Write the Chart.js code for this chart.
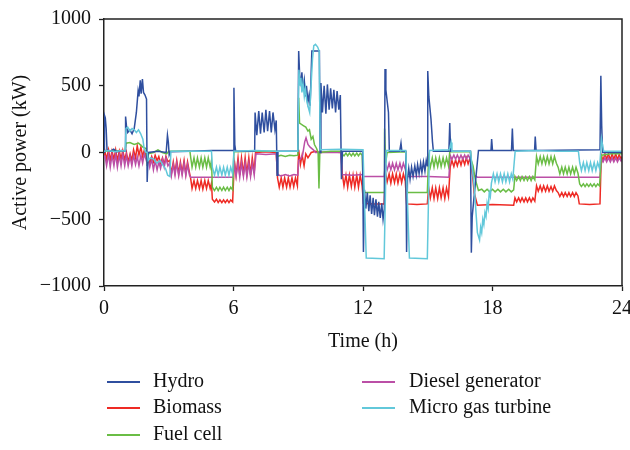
<!DOCTYPE html>
<html>
<head>
<meta charset="utf-8">
<script src="https://cdn.jsdelivr.net/npm/chart.js@4.4.1/dist/chart.umd.min.js"></script>
<style>
  html, body { margin: 0; padding: 0; background: #fff; }
  #wrap { width: 630px; height: 450px; }
</style>
</head>
<body>
<div id="wrap"><canvas id="chart" width="630" height="450"></canvas></div>
<script>
// 数据：[小时, kW]
const seriesNames = ['Hydro', 'Biomass', 'Fuel cell', 'Diesel generator', 'Micro gas turbine'];
const xTicks = [0, 6, 12, 18, 24];
const yTicks = [-1000, -500, 0, 500, 1000];

const hydro = [
  [0, 0], [0.02, 280], [0.06, 260], [0.1, 180], [0.14, 20], [0.3, 10], [0.45, 25], [0.6, 5], [0.8, 15], [0.98, 10],
  [1.0, 270], [1.04, 200], [1.1, 150], [1.2, 170], [1.3, 140], [1.4, 180], [1.5, 300], [1.58, 460], [1.62, 420],
  [1.68, 540], [1.72, 440], [1.78, 550], [1.83, 450], [1.9, 430], [1.97, 400], [2.0, -220], [2.05, 0],
  [2.5, 10], [2.88, 0], [2.94, 130], [2.98, 80], [3.02, -20], [3.08, 5],
  [4.0, 10], [5.0, 15], [5.98, 15], [6.02, 485], [6.06, 60], [6.1, 10], [6.98, 10],
  [7.0, 300], [7.08, 130], [7.17, 310], [7.25, 140], [7.33, 300], [7.42, 150], [7.5, 320], [7.58, 160],
  [7.67, 310], [7.75, 150], [7.83, 300], [7.92, 170], [7.98, 240], [8.02, -170], [8.06, 10],
  [8.98, 10], [9.02, 760], [9.07, 560], [9.12, 520], [9.17, 600], [9.22, 470], [9.28, 540], [9.33, 420],
  [9.38, 500], [9.45, 380], [9.5, 430], [9.55, 350], [9.63, 760], [9.98, 760], [10.01, 0],
  [10.05, 520], [10.12, 300], [10.2, 500], [10.28, 290], [10.35, 510], [10.43, 320], [10.5, 480], [10.58, 330],
  [10.65, 470], [10.73, 300], [10.8, 460], [10.88, 320], [10.95, 430], [11.0, -200], [11.05, 10],
  [11.98, 10], [12.02, -745], [12.07, -280], [12.13, -420], [12.2, -300], [12.27, -440], [12.33, -320],
  [12.4, -460], [12.47, -340], [12.53, -470], [12.6, -350], [12.67, -480], [12.73, -370], [12.8, -490],
  [12.87, -380], [12.93, -500], [12.99, -420],
  [13.02, 625], [13.06, 470], [13.18, 300], [13.22, 10], [13.7, 10], [13.76, 70], [13.8, 10], [13.98, 10],
  [14.02, -745], [14.06, -200], [14.12, -120], [14.18, -200], [14.25, -110], [14.32, -180], [14.4, -100],
  [14.47, -170], [14.53, -90], [14.6, -160], [14.67, -80], [14.73, -150], [14.8, -70], [14.87, -140],
  [14.93, -60], [14.98, -100],
  [15.0, 610], [15.05, 420], [15.15, 250], [15.22, 80], [15.26, 10], [15.98, 10], [16.02, 220], [16.06, 10], [16.98, 10],
  [17.02, -750], [17.06, -480], [17.35, 15], [17.93, 15], [17.96, 100], [18.0, 15], [18.88, 15], [18.92, 180],
  [18.96, 15], [19.95, 15], [19.98, 120], [20.02, 15], [22.98, 20],
  [23.02, 575], [23.06, 200], [23.1, 0], [24, 0],
];

const biomass = [
  [0, -20], [0.04, 10], [0.12, -50], [0.21, 20], [0.29, -60], [0.37, 10], [0.46, -50], [0.54, 20], [0.62, -60],
  [0.71, 10], [0.79, -50], [0.87, 15], [0.96, -55],
  [1.04, 0], [1.12, -70], [1.21, -10], [1.29, -60], [1.37, 20], [1.46, -40], [1.54, 50], [1.62, -20], [1.71, 40],
  [1.79, -30], [1.87, 20], [1.96, -40],
  [2.04, -30], [2.12, -80], [2.21, -30], [2.29, -70], [2.37, -20], [2.46, -60], [2.54, -30], [2.62, -80],
  [2.71, -40], [2.79, -90], [2.87, -30], [2.96, -70],
  [3.04, -60], [3.12, -160], [3.21, -70], [3.29, -150], [3.37, -60], [3.46, -160], [3.54, -70], [3.62, -150],
  [3.71, -60], [3.79, -160], [3.87, -70], [3.96, -150],
  [4.02, -200], [4.08, -270], [4.17, -210], [4.25, -270], [4.33, -210], [4.42, -270], [4.5, -210], [4.58, -275],
  [4.67, -210], [4.75, -270], [4.83, -210], [4.92, -270], [4.98, -230],
  [5.02, -350], [5.12, -370], [5.21, -350], [5.29, -375], [5.37, -355], [5.46, -375], [5.54, -355], [5.62, -375],
  [5.71, -355], [5.79, -375], [5.87, -355], [5.96, -370],
  [6.04, -60], [6.12, -170], [6.21, -40], [6.29, -170], [6.37, -40], [6.46, -160], [6.54, -40], [6.62, -160],
  [6.71, -40], [6.79, -170], [6.87, -40], [6.96, -150],
  [7.02, 0], [7.5, 5], [7.98, 0],
  [8.04, -190], [8.12, -260], [8.21, -190], [8.29, -260], [8.37, -190], [8.46, -260], [8.54, -190], [8.62, -260],
  [8.71, -190], [8.79, -255], [8.87, -190], [8.96, -250],
  [9.02, 20], [9.1, -90], [9.18, -20], [9.27, -100], [9.35, -10], [9.45, -40], [9.6, 0], [9.8, 10], [9.98, 0],
  [10.5, 5], [10.98, 0],
  [11.04, -160], [11.12, -250], [11.21, -170], [11.29, -260], [11.37, -170], [11.46, -255], [11.54, -170],
  [11.62, -260], [11.71, -170], [11.79, -260], [11.87, -170], [11.96, -250],
  [12.02, -380], [12.5, -385], [12.98, -385],
  [13.04, -150], [13.12, -220], [13.21, -160], [13.29, -230], [13.37, -160], [13.46, -225], [13.54, -160],
  [13.62, -230], [13.71, -160], [13.79, -225], [13.87, -160], [13.96, -215],
  [14.02, -385], [14.5, -390], [14.98, -385],
  [15.04, -260], [15.12, -340], [15.21, -265], [15.29, -345], [15.37, -265], [15.46, -345], [15.54, -265],
  [15.62, -340], [15.71, -265], [15.79, -345], [15.87, -265], [15.96, -330],
  [16.04, -110], [16.12, -60], [16.21, -105], [16.29, -55], [16.37, -100], [16.46, -50], [16.54, -95],
  [16.62, -45], [16.71, -90], [16.79, -40], [16.87, -85], [16.96, -40],
  [17.02, -100], [17.08, -180], [17.15, -300], [17.3, -395], [18.0, -390], [18.98, -395],
  [19.04, -340], [19.12, -370], [19.21, -340], [19.29, -370], [19.37, -340], [19.46, -370], [19.54, -340],
  [19.62, -370], [19.71, -340], [19.79, -370], [19.87, -340], [19.96, -365],
  [20.04, -250], [20.12, -290], [20.21, -250], [20.29, -290], [20.37, -250], [20.46, -290], [20.54, -250],
  [20.62, -290], [20.71, -255], [20.79, -290], [20.87, -250], [20.96, -285],
  [21.04, -300], [21.12, -330], [21.21, -300], [21.29, -330], [21.37, -300], [21.46, -330], [21.54, -300],
  [21.62, -330], [21.71, -300], [21.79, -330], [21.87, -300], [21.96, -325],
  [22.02, -385], [22.5, -390], [22.98, -385],
  [23.04, -20], [23.12, -60], [23.21, -10], [23.29, -50], [23.37, -10], [23.46, -55], [23.54, -10],
  [23.62, -50], [23.71, -10], [23.79, -55], [23.87, -15], [23.96, -50], [24, -30],
];

const fuelCell = [
  [0, 10], [0.5, 15], [0.98, 10],
  [1.02, 70], [1.2, 75], [1.4, 60], [1.6, 70], [1.8, 40], [1.95, 30], [2.0, -100], [2.05, -10], [2.3, 0],
  [2.5, 20], [2.7, 0], [2.9, -10], [3.0, 10], [3.98, 10],
  [4.02, -40], [4.08, -110], [4.17, -40], [4.25, -110], [4.33, -40], [4.42, -110], [4.5, -40], [4.58, -110],
  [4.67, -40], [4.75, -110], [4.83, -40], [4.92, -110], [4.98, -60],
  [5.02, -260], [5.12, -285], [5.21, -260], [5.29, -285], [5.37, -260], [5.46, -285], [5.54, -260],
  [5.62, -285], [5.71, -260], [5.79, -285], [5.87, -260], [5.96, -280],
  [6.02, 5], [7.0, 10], [7.98, 10],
  [8.02, -30], [8.2, -20], [8.4, -30], [8.6, -20], [8.8, -25], [8.98, -20],
  [9.02, 410], [9.06, 220], [9.15, 210], [9.25, 200], [9.35, 190], [9.45, 160], [9.52, 170], [9.6, 100],
  [9.68, 120], [9.75, 60], [9.85, 30], [9.92, 0], [9.96, -270], [10.0, 0],
  [10.5, 10], [10.98, 10],
  [11.02, -10], [11.12, -25], [11.21, -5], [11.29, -25], [11.37, -5], [11.46, -25], [11.54, -5], [11.62, -25],
  [11.71, -5], [11.79, -25], [11.87, -5], [11.96, -20],
  [12.02, -300], [12.5, -300], [12.98, -300],
  [13.0, 180], [13.05, -80], [13.12, 0], [13.98, 5],
  [14.02, -300], [14.5, -300], [14.98, -300],
  [15.04, -40], [15.12, -110], [15.21, -40], [15.29, -110], [15.37, -40], [15.46, -105], [15.54, -40],
  [15.62, -105], [15.71, -40], [15.79, -100], [15.87, -40], [15.96, -100],
  [16.02, 5], [16.5, 5], [16.98, 5],
  [17.02, -60], [17.1, -100], [17.2, -200], [17.35, -285],
  [17.5, -275], [17.62, -295], [17.75, -275], [17.87, -295], [18.0, -275], [18.12, -295], [18.25, -275],
  [18.37, -295], [18.5, -275], [18.62, -295], [18.75, -275], [18.87, -295], [18.98, -280],
  [19.04, -180], [19.12, -210], [19.21, -180], [19.29, -210], [19.37, -180], [19.46, -210], [19.54, -180],
  [19.62, -210], [19.71, -180], [19.79, -210], [19.87, -180], [19.96, -205],
  [20.04, -30], [20.12, -85], [20.21, -30], [20.29, -85], [20.37, -30], [20.46, -85], [20.54, -30],
  [20.62, -85], [20.71, -30], [20.79, -85], [20.87, -30], [20.96, -80],
  [21.04, -110], [21.12, -160], [21.21, -110], [21.29, -160], [21.37, -110], [21.46, -160], [21.54, -110],
  [21.62, -160], [21.71, -110], [21.79, -160], [21.87, -110], [21.96, -155],
  [22.04, -235], [22.12, -255], [22.21, -235], [22.29, -255], [22.37, -235], [22.46, -255], [22.54, -235],
  [22.62, -255], [22.71, -235], [22.79, -255], [22.87, -235], [22.96, -250],
  [23.05, -20], [23.5, -10], [24, -10],
];

const diesel = [
  [0, -40], [0.04, -20], [0.12, -100], [0.21, -10], [0.29, -110], [0.37, -20], [0.46, -100], [0.54, -10],
  [0.62, -110], [0.71, -20], [0.79, -100], [0.87, -10], [0.96, -100],
  [1.04, -20], [1.12, -100], [1.21, -30], [1.29, -100], [1.37, -20], [1.46, -90], [1.54, -30], [1.62, -100],
  [1.71, -20], [1.79, -80], [1.87, -10], [1.96, -60],
  [2.04, -40], [2.12, -110], [2.21, -50], [2.29, -130], [2.37, -60], [2.46, -130], [2.54, -70], [2.62, -120],
  [2.71, -50], [2.79, -110], [2.87, -40], [2.96, -100],
  [3.04, -80], [3.12, -175], [3.21, -90], [3.29, -170], [3.37, -80], [3.46, -175], [3.54, -90], [3.62, -170],
  [3.71, -80], [3.79, -175], [3.87, -90], [3.96, -170],
  [4.02, -185], [5.0, -185], [5.98, -185],
  [6.04, -80], [6.12, -180], [6.21, -80], [6.29, -185], [6.37, -80], [6.46, -180], [6.54, -80], [6.62, -185],
  [6.71, -80], [6.79, -180], [6.87, -80], [6.96, -170],
  [7.04, -10], [7.5, -15], [7.98, -10],
  [8.04, -165], [8.2, -175], [8.4, -165], [8.6, -175], [8.8, -165], [8.98, -170],
  [9.02, -60], [9.1, -50], [9.2, -20], [9.3, 80], [9.36, 110], [9.45, 60], [9.55, 40], [9.7, 20], [9.8, 0], [9.98, 0],
  [10.5, 0], [10.98, 0],
  [11.02, -165], [11.5, -170], [11.98, -165],
  [12.02, -180], [12.98, -180],
  [13.04, -80], [13.12, -130], [13.21, -80], [13.29, -130], [13.37, -80], [13.46, -130], [13.54, -80],
  [13.62, -130], [13.71, -80], [13.79, -130], [13.87, -80], [13.96, -125],
  [14.02, -180], [15.0, -180], [15.98, -185],
  [16.04, -20], [16.12, -50], [16.21, -20], [16.29, -50], [16.37, -20], [16.46, -50], [16.54, -20],
  [16.62, -50], [16.71, -20], [16.79, -50], [16.87, -20], [16.96, -45],
  [17.05, -120], [17.15, -170], [17.3, -185], [20.0, -185], [22.98, -185],
  [23.04, -40], [23.12, -70], [23.21, -40], [23.29, -70], [23.37, -40], [23.46, -70], [23.54, -40],
  [23.62, -70], [23.71, -40], [23.79, -70], [23.87, -40], [23.96, -65], [24, -50],
];

const microTurbine = [
  [0, 10], [0.2, 15], [0.5, 5], [0.8, 15], [0.98, 10],
  [1.02, 180], [1.1, 190], [1.2, 160], [1.3, 180], [1.4, 170], [1.5, 150], [1.6, 170], [1.7, 140], [1.8, 100],
  [1.86, 30], [1.92, 5], [2.0, 0],
  [2.05, -60], [2.15, -40], [2.3, -50], [2.45, -80], [2.6, -60], [2.75, -100], [2.85, -120], [2.95, -170],
  [3.05, -180], [3.1, 10],
  [4.0, 10], [4.98, 10],
  [5.02, -110], [5.12, -170], [5.21, -110], [5.29, -170], [5.37, -110], [5.46, -170], [5.54, -110],
  [5.62, -170], [5.71, -110], [5.79, -170], [5.87, -110], [5.96, -160],
  [6.02, 10], [7.0, 15], [8.0, 10], [8.98, 10],
  [9.03, 620], [9.08, 500], [9.12, 560], [9.17, 450], [9.22, 520], [9.28, 420], [9.33, 480], [9.4, 380],
  [9.48, 330], [9.53, 300], [9.6, 520], [9.66, 700], [9.72, 800], [9.8, 810], [9.9, 790], [9.97, 760], [10.02, 20],
  [11.0, 25], [12.0, 20],
  [12.15, -790], [12.98, -795], [13.08, 15], [13.98, 15],
  [14.15, -790], [14.98, -795], [15.08, 15], [16.0, 20], [16.08, 75], [16.12, 10], [16.98, 10],
  [17.05, -100], [17.15, -250], [17.3, -600], [17.4, -655], [17.45, -560], [17.5, -600], [17.55, -500],
  [17.6, -540], [17.65, -450], [17.7, -480], [17.75, -380], [17.8, -420], [17.85, -300], [17.9, -330], [17.95, -230],
  [18.04, -160], [18.12, -220], [18.21, -160], [18.29, -220], [18.37, -160], [18.46, -220], [18.54, -160],
  [18.62, -220], [18.71, -160], [18.79, -220], [18.87, -160], [18.94, -200],
  [19.05, 10], [20.0, 15], [21.0, 10], [21.98, 10],
  [22.04, -75], [22.12, -135], [22.21, -75], [22.29, -135], [22.37, -75], [22.46, -135], [22.54, -75],
  [22.62, -135], [22.71, -75], [22.79, -135], [22.87, -75], [22.96, -120],
  [23.05, 100], [23.15, 10], [24, 10],
];

const seriesData = [hydro, biomass, fuelCell, diesel, microTurbine];
const colors = ['#2f4f9f', '#ee2a24', '#6abd45', '#bb4fa6', '#62c8da'];
const drawOrder = [2, 5, 3, 4, 1]; // 数字小的画在上面

const FONT = '"Liberation Serif", "DejaVu Serif", serif';
Chart.defaults.font.family = FONT;
Chart.defaults.font.size = 20;
Chart.defaults.color = '#111';

// 图框上边和右边
const framePlugin = {
  id: 'frame',
  afterDraw(chart) {
    const { ctx, chartArea: a } = chart;
    ctx.save();
    ctx.strokeStyle = '#222';
    ctx.lineWidth = 1.5;
    ctx.beginPath();
    ctx.moveTo(a.left, a.top);
    ctx.lineTo(a.right, a.top);
    ctx.lineTo(a.right, a.bottom);
    ctx.stroke();
    ctx.restore();
  },
};

// 两列图例，放在图下方
const legendPlugin = {
  id: 'twoColLegend',
  afterDraw(chart) {
    const { ctx } = chart;
    const cols = [{ x0: 107, x1: 140, tx: 153 }, { x0: 362, x1: 395, tx: 409 }];
    const rows = [382, 408, 435];
    ctx.save();
    ctx.font = '20px ' + FONT;
    ctx.textBaseline = 'middle';
    ctx.fillStyle = '#111';
    chart.data.datasets.forEach((ds, i) => {
      const c = cols[i < 3 ? 0 : 1];
      const y = rows[i < 3 ? i : i - 3];
      ctx.strokeStyle = ds.borderColor;
      ctx.lineWidth = 2;
      ctx.beginPath();
      ctx.moveTo(c.x0, y);
      ctx.lineTo(c.x1, y);
      ctx.stroke();
      ctx.fillText(ds.label, c.tx, y);
    });
    ctx.restore();
  },
};

new Chart(document.getElementById('chart'), {
  type: 'line',
  data: {
    datasets: seriesNames.map((name, i) => ({
      label: name,
      data: seriesData[i],
      borderColor: colors[i],
      backgroundColor: colors[i],
      borderWidth: 1.5,
      pointRadius: 0,
      tension: 0,
      fill: false,
      order: drawOrder[i],
    })),
  },
  options: {
    responsive: false,
    animation: false,
    devicePixelRatio: 1,
    layout: { padding: { left: 0, top: 19, right: 8, bottom: 94 } },
    plugins: { legend: { display: false }, tooltip: { enabled: false } },
    scales: {
      x: {
        type: 'linear',
        min: 0,
        max: 24,
        afterFit: (s) => { s.height = 70; s.paddingRight = 0; s.paddingLeft = 0; },
        afterBuildTicks: (s) => { s.ticks = xTicks.map((v) => ({ value: v })); },
        ticks: { padding: 6, font: { size: 20 }, color: '#111' },
        grid: { drawOnChartArea: false, tickLength: 5, color: '#222', tickWidth: 1.3 },
        border: { color: '#222', width: 1.5 },
        title: { display: true, text: 'Time (h)', font: { size: 20 }, color: '#111', padding: { top: 0, bottom: 2 } },
      },
      y: {
        min: -1000,
        max: 1000,
        afterFit: (s) => { s.width = 104; s.paddingTop = 0; s.paddingBottom = 0; },
        afterBuildTicks: (s) => { s.ticks = yTicks.map((v) => ({ value: v })); },
        ticks: {
          padding: 8,
          font: { size: 20 },
          color: '#111',
          callback: (v) => (v < 0 ? '\u2212' + Math.abs(v) : String(v)),
        },
        grid: { drawOnChartArea: false, tickLength: 5, color: '#222', tickWidth: 1.3 },
        border: { color: '#222', width: 1.5 },
        title: { display: true, text: 'Active power (kW)', font: { size: 20 }, color: '#111', padding: { top: 9, bottom: 0 } },
      },
    },
  },
  plugins: [framePlugin, legendPlugin],
});
</script>
</body>
</html>
